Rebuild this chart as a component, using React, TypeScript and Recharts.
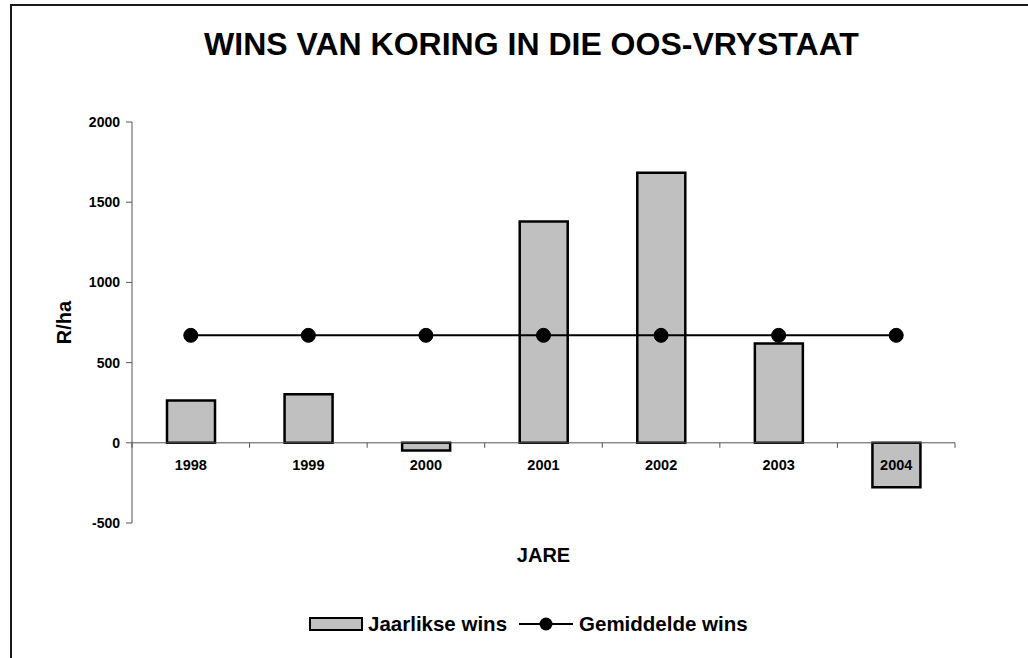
import { ComposedChart, Bar, Line, XAxis, YAxis, ReferenceLine, Legend } from 'recharts'

const YEARS = ['1998', '1999', '2000', '2001', '2002', '2003', '2004']
const JAARLIKSE_WINS = [264, 302, -48, 1379, 1683, 619, -277]
const GEMIDDELDE_WINS = [670, 670, 670, 670, 670, 670, 670]
const Y_TICKS = [-500, 0, 500, 1000, 1500, 2000]
const Y_DOMAIN: [number, number] = [-500, 2000]

const data = YEARS.map((jaar, i) => ({
  jaar,
  wins: JAARLIKSE_WINS[i],
  gem: GEMIDDELDE_WINS[i],
}))

const W = 1028
const H = 658
const PLOT_LEFT = 132
const PLOT_RIGHT = 955
const PLOT_TOP = 122
const PLOT_BOTTOM = 523
const X_AXIS_H = 45
const ZERO_Y = PLOT_TOP + ((Y_DOMAIN[1] - 0) / (Y_DOMAIN[1] - Y_DOMAIN[0])) * (PLOT_BOTTOM - PLOT_TOP)

const FONT = '"Liberation Sans", Arial, Helvetica, sans-serif'
const AXIS = '#555'

// Excel puts the category axis through zero, with tick marks between the categories
function YearTick(props: any) {
  const { x, payload, index } = props
  const band = (PLOT_RIGHT - PLOT_LEFT) / YEARS.length
  const left = x - band / 2
  const right = x + band / 2
  return (
    <g>
      <line x1={left} x2={left} y1={ZERO_Y} y2={ZERO_Y + 5} stroke={AXIS} />
      {index === YEARS.length - 1 && (
        <line x1={right} x2={right} y1={ZERO_Y} y2={ZERO_Y + 5} stroke={AXIS} />
      )}
      <text
        x={x}
        y={ZERO_Y + 27}
        textAnchor="middle"
        fontFamily={FONT}
        fontWeight="bold"
        fontSize={14.5}
        fill="#000"
      >
        {payload.value}
      </text>
    </g>
  )
}

function LegendBox() {
  return (
    <div
      style={{
        display: 'flex',
        alignItems: 'center',
        fontFamily: FONT,
        fontWeight: 'bold',
        fontSize: 20.5,
        color: '#000',
        paddingLeft: 309,
      }}
    >
      <span
        style={{
          display: 'inline-block',
          width: 50,
          height: 10,
          border: '2px solid #000',
          background: '#c0c0c0',
          marginRight: 5,
        }}
      />
      <span>Jaarlikse wins</span>
      <svg width={56} height={16} style={{ marginLeft: 11, marginRight: 5 }}>
        <line x1={1} x2={55} y1={8} y2={8} stroke="#000" strokeWidth={2} />
        <circle cx={28} cy={8} r={6.5} fill="#000" />
      </svg>
      <span>Gemiddelde wins</span>
    </div>
  )
}

export default function App() {
  return (
    <div
      style={{
        position: 'absolute',
        left: 0,
        top: 0,
        width: W,
        height: H,
        overflow: 'hidden',
        background: '#fff',
      }}
    >
      <div
        style={{
          position: 'absolute',
          left: 10,
          top: 4,
          width: 1100,
          height: 700,
          border: '2px solid #1a1a1a',
        }}
      />
      <div
        style={{
          position: 'absolute',
          left: 0,
          top: 28,
          width: 1063,
          textAlign: 'center',
          fontFamily: FONT,
          fontWeight: 'bold',
          fontSize: 32,
          lineHeight: '32px',
          color: '#000',
        }}
      >
        WINS VAN KORING IN DIE OOS-VRYSTAAT
      </div>
      <ComposedChart
        width={W}
        height={H}
        data={data}
        margin={{ top: PLOT_TOP, right: W - PLOT_RIGHT, bottom: H - PLOT_BOTTOM - X_AXIS_H, left: 0 }}
        style={{ position: 'absolute', left: 0, top: 0 }}
      >
        <XAxis
          dataKey="jaar"
          height={X_AXIS_H}
          axisLine={false}
          tickLine={false}
          tick={<YearTick />}
          interval={0}
          label={{
            value: 'JARE',
            position: 'insideBottom',
            offset: 6,
            style: { fontFamily: FONT, fontWeight: 'bold', fontSize: 20, fill: '#000' },
          }}
        />
        <YAxis
          width={PLOT_LEFT}
          domain={Y_DOMAIN}
          ticks={Y_TICKS}
          interval={0}
          tickSize={6}
          tickMargin={6}
          axisLine={{ stroke: AXIS }}
          tickLine={{ stroke: AXIS }}
          tick={{ fontFamily: FONT, fontWeight: 'bold', fontSize: 14, fill: '#000' }}
          label={{
            value: 'R/ha',
            angle: -90,
            position: 'insideLeft',
            offset: 64,
            style: { fontFamily: FONT, fontWeight: 'bold', fontSize: 20, fill: '#000', textAnchor: 'middle' },
          }}
        />
        <ReferenceLine y={0} stroke={AXIS} />
        <Bar
          dataKey="wins"
          name="Jaarlikse wins"
          fill="#c0c0c0"
          stroke="#000"
          strokeWidth={2.5}
          barSize={48}
          isAnimationActive={false}
        />
        <Line
          dataKey="gem"
          name="Gemiddelde wins"
          type="linear"
          stroke="#000"
          strokeWidth={2}
          dot={{ r: 7, fill: '#000', stroke: '#000', strokeWidth: 1 }}
          activeDot={false}
          isAnimationActive={false}
        />
        <Legend
          verticalAlign="middle"
          align="center"
          content={<LegendBox />}
          wrapperStyle={{ top: 612, left: 0, width: W }}
        />
      </ComposedChart>
    </div>
  )
}
